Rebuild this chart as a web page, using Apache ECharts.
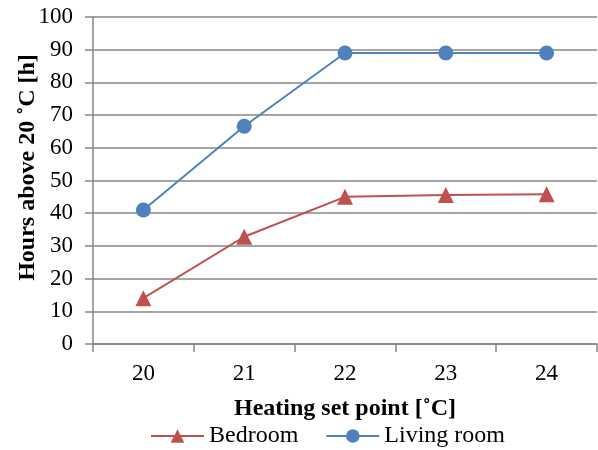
<!DOCTYPE html>
<html><head><meta charset="utf-8">
<script src="https://cdn.jsdelivr.net/npm/echarts@6/dist/echarts.min.js"></script>
<style>html,body{margin:0;padding:0;background:#fff}#c{width:598px;height:450px}</style>
</head><body><div id="c"></div>
<script>
const categories = ['20','21','22','23','24'];
const bedroom = [14.0, 32.8, 45.0, 45.6, 45.8];
const livingRoom = [41.0, 66.6, 89.0, 89.0, 89.0];
const yTicks = {min:0, max:100, interval:10};

const font = '"Liberation Serif", "Times New Roman", serif';
const chart = echarts.init(document.getElementById('c'), null, {renderer:'canvas'});
chart.setOption({
  animation:false,
  grid:{left:93, right:1, top:17, bottom:106, containLabel:false, outerBoundsMode:'none'},
  legend:{
    top:419, left:145, itemWidth:53, itemHeight:17, itemGap:27,
    textStyle:{fontFamily:font, fontSize:24, color:'#000'},
    data:['Bedroom','Living room']
  },
  xAxis:{
    type:'category', data:categories, boundaryGap:true,
    name:'Heating set point [˚C]', nameLocation:'middle', nameGap:53, nameMoveOverlap:false,
    nameTextStyle:{fontFamily:font, fontSize:24, fontWeight:'bold', color:'#000'},
    axisLine:{lineStyle:{color:'#878787', width:1.5}},
    axisTick:{show:true, length:8, alignWithLabel:false, lineStyle:{color:'#878787', width:1.5}},
    axisLabel:{fontFamily:font, fontSize:23, color:'#000', margin:18}
  },
  yAxis:{
    type:'value', min:yTicks.min, max:yTicks.max, interval:yTicks.interval,
    name:'Hours above 20 ˚C [h]', nameLocation:'middle', nameGap:53, nameRotate:90, nameMoveOverlap:false,
    nameTextStyle:{fontFamily:font, fontSize:24, fontWeight:'bold', color:'#000', padding:[0,0,0,26]},
    axisLine:{show:true, lineStyle:{color:'#878787', width:1.5}},
    axisTick:{show:true, length:8, lineStyle:{color:'#878787', width:1.5}},
    axisLabel:{fontFamily:font, fontSize:23, color:'#000', margin:20},
    splitLine:{lineStyle:{color:'#878787', width:1.5}}
  },
  series:[
    {name:'Bedroom', type:'line', data:bedroom, symbol:'triangle', symbolSize:16,
     itemStyle:{color:'#C0504D'}, lineStyle:{color:'#C0504D', width:2}},
    {name:'Living room', type:'line', data:livingRoom, symbol:'circle', symbolSize:15,
     itemStyle:{color:'#4F81BD'}, lineStyle:{color:'#4F81BD', width:2}}
  ]
});
</script></body></html>
